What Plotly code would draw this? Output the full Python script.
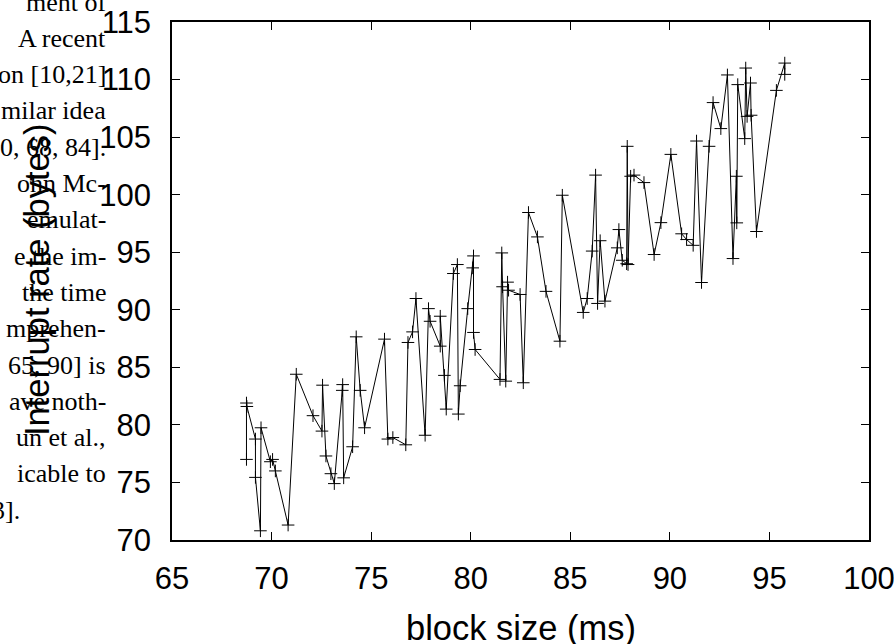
import plotly.graph_objects as go

# ---- data ----
block_size = [68.74, 68.74, 68.76, 69.19, 69.19, 69.44, 69.47, 69.94, 70.05, 70.19,
              70.83, 71.24, 72.08, 72.53, 72.56, 72.73, 72.98, 73.15, 73.55, 73.57,
              73.62, 74.07, 74.25, 74.45, 74.67, 75.67, 75.84, 76.09, 76.74, 76.85,
              77.08, 77.25, 77.71, 77.88, 77.96, 78.47, 78.47, 78.68, 78.77, 79.13,
              79.33, 79.38, 79.47, 79.85, 80.10, 80.14, 80.14, 80.22, 81.47, 81.56,
              81.60, 81.76, 81.85, 81.90, 82.48, 82.64, 82.90, 83.35, 83.78, 84.48,
              84.60, 85.65, 85.85, 86.10, 86.27, 86.37, 86.50, 86.74, 87.36, 87.44,
              87.61, 87.83, 87.86, 87.90, 88.03, 88.20, 88.70, 89.21, 89.55, 90.05,
              90.59, 90.84, 91.17, 91.34, 91.59, 91.97, 92.17, 92.56, 92.89, 93.17,
              93.34, 93.36, 93.41, 93.76, 93.81, 93.88, 94.05, 94.08, 94.35, 95.35,
              95.77, 95.77]
interrupt_rate = [77.0, 81.9, 81.6, 78.77, 75.44, 70.8, 79.75, 76.8, 77.0, 76.0,
                  71.3, 84.4, 80.8, 79.46, 83.45, 77.3, 75.76, 74.9, 83.0, 83.5,
                  75.4, 78.1, 87.65, 83.0, 79.75, 87.45, 78.77, 78.9, 78.27, 87.16,
                  88.08, 90.98, 79.1, 90.1, 89.0, 86.84, 89.44, 84.3, 81.37, 93.15,
                  93.93, 80.94, 83.4, 90.1, 93.64, 94.68, 88.03, 86.55, 83.95, 94.94,
                  92.0, 83.8, 92.4, 91.7, 91.33, 83.66, 98.45, 96.33, 91.6, 87.27,
                  99.95, 89.77, 90.98, 95.1, 101.7, 90.55, 96.0, 90.75, 95.38, 96.97,
                  94.3, 94.0, 104.2, 93.93, 101.6, 101.7, 101.05, 94.8, 97.57, 103.5,
                  96.6, 96.1, 95.6, 104.66, 92.37, 104.2, 108.0, 105.74, 110.4, 94.45,
                  101.6, 97.55, 109.56, 104.87, 111.0, 106.8, 109.7, 106.9, 96.8, 109.06,
                  111.43, 110.45]

x_ticks = [65, 70, 75, 80, 85, 90, 95, 100]
y_ticks = [70, 75, 80, 85, 90, 95, 100, 105, 110, 115]
x_title = "block size (ms)"
y_title = "Interrupt rate (bytes)"

# fragments of the surrounding page text that overlap the figure on the left
side_text = ["ment of", "A recent", "on [10,21]", "milar idea", "0, 68, 84].",
             "ohn Mc-", "emulat-", "e the im-", "the time", "mprehen-",
             "65, 90] is", "ave noth-", "un et al.,", "icable to", "3]."]

# ---- geometry ----
W, H = 894, 644
L, R, T, B = 172, 25, 22, 104
pw, ph = W - L - R, H - T - B

fig = go.Figure()
fig.add_trace(go.Scatter(
    x=block_size, y=interrupt_rate, mode="lines+markers",
    line=dict(color="black", width=1),
    marker=dict(symbol="cross-thin-open", size=9, color="black",
                line=dict(color="black", width=1)),
    showlegend=False, hoverinfo="skip"))

sans = "Liberation Sans, Arial, Helvetica, sans-serif"
axis_common = dict(showgrid=False, zeroline=False, showline=True, linecolor="black",
                   linewidth=1.5, mirror="ticks", ticks="inside", ticklen=8,
                   tickwidth=1.2, tickcolor="black", automargin=False,
                   tickfont=dict(family=sans, size=31, color="black"),
                   ticklabeloverflow="allow")

fig.update_xaxes(range=[65, 100], tickvals=x_ticks, ticktext=[str(v) for v in x_ticks],
                 ticklabelstandoff=10, **axis_common)
fig.update_yaxes(range=[70, 115], tickvals=y_ticks, ticktext=[str(v) for v in y_ticks],
                 ticklabelstandoff=13, **axis_common)

annotations = []
# axis titles
annotations.append(dict(text=x_title, xref="paper", yref="paper", x=0.5,
                        y=(540 - 628) / ph, xanchor="center", yanchor="middle",
                        showarrow=False, font=dict(family=sans, size=34.5, color="black")))
annotations.append(dict(text=y_title, xref="paper", yref="paper", x=(37 - L) / pw,
                        y=(540 - 280) / ph, xanchor="center", yanchor="middle",
                        textangle=-90, showarrow=False,
                        font=dict(family=sans, size=34.5, color="black")))

# page text lines
serif = "Liberation Serif, Times New Roman, serif"
for i, s in enumerate(side_text):
    cy = 2 + 36.3 * i
    right_px = 22 if s == "3]." else 108
    annotations.append(dict(text=s, xref="paper", yref="paper",
                            x=(right_px - L) / pw, y=(540 - cy) / ph,
                            xanchor="right", yanchor="middle", showarrow=False,
                            font=dict(family=serif, size=26, color="black")))

fig.update_layout(width=W, height=H, autosize=False, template="none",
                  margin=dict(l=L, r=R, t=T, b=B, pad=0),
                  paper_bgcolor="white", plot_bgcolor="white",
                  annotations=annotations)

fig.write_html("out.html", config={"displayModeBar": False},
               post_script="document.body.style.margin='0';document.body.style.overflow='hidden';")
